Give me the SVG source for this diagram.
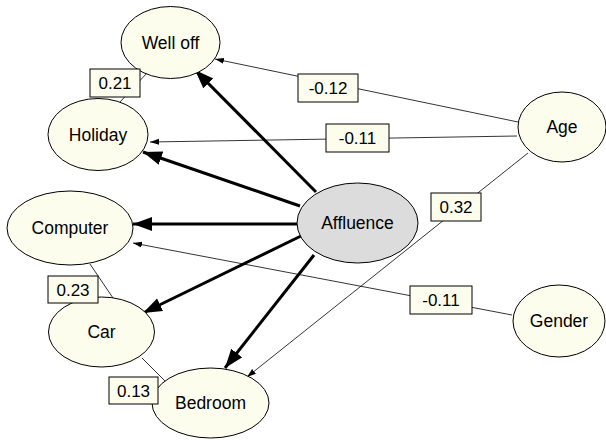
<svg xmlns="http://www.w3.org/2000/svg" width="606" height="440" viewBox="0 0 606 440">
<style>
.node ellipse{fill:#fdfdee;stroke:#000;stroke-width:1}
#affluence ellipse{fill:#dcdcdc}
text{font-family:"Liberation Sans",Arial,sans-serif;font-size:17.5px;fill:#000;text-anchor:middle}
.thick{stroke:#000;stroke-width:3;fill:none}
.thin{stroke:#000;stroke-width:0.8;fill:none}
.lab rect{fill:#fdfdee;stroke:#000;stroke-width:1}
.lab text{font-size:17px}
</style>
<defs>
<marker id="big" markerUnits="userSpaceOnUse" markerWidth="22" markerHeight="16" refX="19" refY="7" orient="auto">
<path d="M0,0 L19,7 L0,14 Z" fill="#000"/>
</marker>
<marker id="small" markerUnits="userSpaceOnUse" markerWidth="12" markerHeight="8" refX="9" refY="3" orient="auto">
<path d="M0,0 L9,3 L0,6 Z" fill="#000"/>
</marker>
</defs>
<g id="connectors">
<line class="thick" x1="316" y1="192" x2="195" y2="70" marker-end="url(#big)"/>
<line class="thick" x1="300" y1="206" x2="143" y2="152" marker-end="url(#big)"/>
<line class="thick" x1="297" y1="224" x2="133" y2="224" marker-end="url(#big)"/>
<line class="thick" x1="301" y1="236" x2="143" y2="313" marker-end="url(#big)"/>
<line class="thick" x1="314" y1="255" x2="225" y2="368" marker-end="url(#big)"/>
<line class="thin" x1="518" y1="122" x2="215" y2="59" marker-end="url(#small)"/>
<line class="thin" x1="517" y1="136" x2="150" y2="142" marker-end="url(#small)"/>
<line class="thin" x1="528" y1="153" x2="247" y2="377" marker-end="url(#small)"/>
<line class="thin" x1="512" y1="315" x2="133" y2="243" marker-end="url(#small)"/>
<line class="thin" x1="147" y1="73" x2="120" y2="102"/>
<line class="thin" x1="90" y1="264" x2="113" y2="298"/>
<line class="thin" x1="142" y1="358" x2="165" y2="381"/>
</g>
<g id="welloff" class="node"><ellipse cx="170.5" cy="42.5" rx="49.5" ry="36"/><text x="170.5" y="49">Well off</text></g>
<g id="holiday" class="node"><ellipse cx="98" cy="134.5" rx="50" ry="36"/><text x="98" y="141">Holiday</text></g>
<g id="computer" class="node"><ellipse cx="70" cy="228" rx="63" ry="37"/><text x="70" y="234">Computer</text></g>
<g id="car" class="node"><ellipse cx="101.5" cy="332" rx="53" ry="35"/><text x="101.5" y="338">Car</text></g>
<g id="bedroom" class="node"><ellipse cx="210.5" cy="403" rx="58.5" ry="35"/><text x="210.5" y="409">Bedroom</text></g>
<g id="affluence" class="node"><ellipse cx="357.5" cy="223" rx="60.5" ry="40"/><text x="357.5" y="229">Affluence</text></g>
<g id="age" class="node"><ellipse cx="562" cy="127" rx="44" ry="35"/><text x="562" y="133">Age</text></g>
<g id="gender" class="node"><ellipse cx="559" cy="321" rx="46" ry="36"/><text x="559" y="327">Gender</text></g>
<g id="labels" class="lab">
<rect x="90" y="69" width="50" height="28"/><text x="115" y="89">0.21</text>
<rect x="298" y="74" width="60" height="28"/><text x="328" y="94">-0.12</text>
<rect x="326" y="124" width="63" height="28"/><text x="357.5" y="144">-0.11</text>
<rect x="431" y="193" width="50" height="28"/><text x="456" y="213">0.32</text>
<rect x="410" y="286" width="62" height="28"/><text x="441" y="306">-0.11</text>
<rect x="48" y="276" width="50" height="27"/><text x="73" y="295.5">0.23</text>
<rect x="109" y="377" width="49" height="27"/><text x="133.5" y="396.5">0.13</text>
</g>
</svg>
